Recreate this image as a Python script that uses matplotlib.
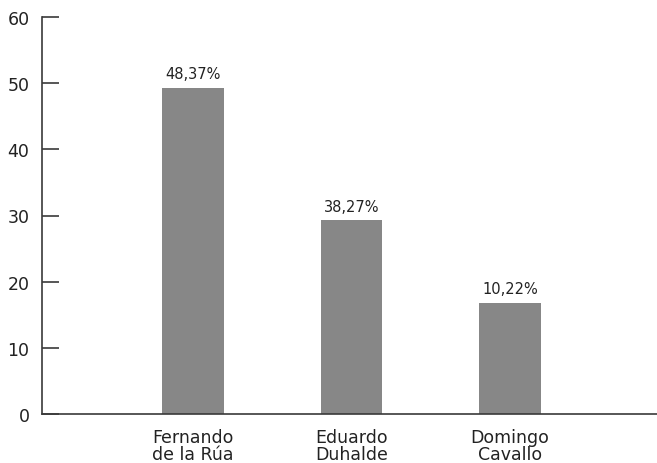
import numpy as np
import matplotlib.pyplot as plt

categorias = ['Fernando\nde la Rúa', 'Eduardo\nDuhalde', 'Domingo\nCavallo']
alturas = [49.3, 29.3, 16.8]
etiquetas = ['48,37%', '38,27%', '10,22%']

plt.rcParams['font.family'] = ['DejaVu Sans']

fig = plt.figure(figsize=(6.57, 4.64), dpi=100)
ax = fig.add_axes([42 / 657, 1 - 415 / 464, 1 - 42 / 657, 397 / 464])

x = np.arange(len(categorias))
barras = ax.bar(x, alturas, width=0.39, color='#878787')

for b, txt in zip(barras, etiquetas):
    ax.text(b.get_x() + b.get_width() / 2, b.get_height() + 1.0, txt,
            ha='center', va='bottom', fontsize=10.5, color='#222222')

ax.set_xlim(-0.953, 2.927)
ax.set_ylim(0, 60)
ax.set_yticks(range(0, 61, 10))
ax.set_xticks(x)
ax.set_xticklabels(categorias, fontsize=12.5, color='#222222', linespacing=0.95)

for s in ['top', 'right']:
    ax.spines[s].set_visible(False)
ax.spines['left'].set_color('#3a3a3a')
ax.spines['bottom'].set_color('#3a3a3a')
ax.spines['left'].set_linewidth(1.2)
ax.spines['bottom'].set_linewidth(1.2)

ax.tick_params(axis='y', direction='in', length=12, width=1.2, color='#3a3a3a',
               labelsize=12.5, labelcolor='#222222', pad=9)
ax.tick_params(axis='x', length=0, pad=10)

fig.savefig('out.png', dpi=100)
